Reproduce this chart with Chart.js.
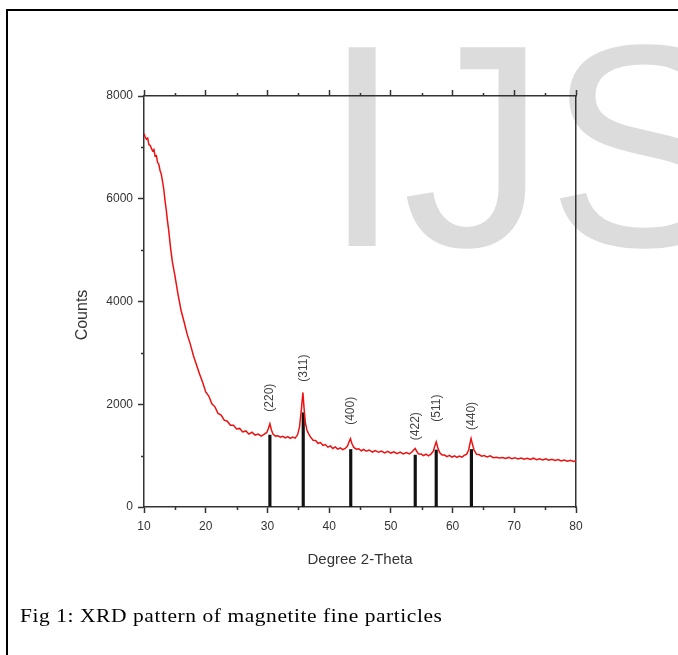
<!DOCTYPE html>
<html>
<head>
<meta charset="utf-8">
<title>XRD magnetita</title>
<script src="https://cdn.jsdelivr.net/npm/chart.js@4.4.1/dist/chart.umd.min.js"></script>
<style>
  html, body { margin: 0; padding: 0; background: #fff; }
  body { width: 678px; height: 655px; position: relative; overflow: hidden; }
  #marco { position: absolute; left: 6px; top: 9px; right: 0; bottom: 0; border-top: 2px solid #000; border-left: 2px solid #000; }
  #lienzo { position: absolute; left: 0; top: 0; }
  #pie { position: absolute; left: 20px; top: 606px; font-family: "Liberation Serif", "Times New Roman", serif; font-size: 19px; line-height: 19px; letter-spacing: 0.5px; color: #000; white-space: nowrap; transform: scaleX(1.13); transform-origin: left top; }
</style>
</head>
<body>
<div id="marco"></div>
<canvas id="lienzo" width="678" height="655"></canvas>
<div id="pie">Fig 1: XRD pattern of magnetite fine particles</div>
<script>
const twoTheta = [
  10.0, 10.2, 10.4, 10.6, 10.8, 11.0, 11.2, 11.4, 11.6, 11.8, 12.0, 12.2, 12.4, 12.6, 12.8,
  13.0, 13.2, 13.4, 13.6, 13.8, 14.0, 14.3, 14.6, 15.0, 15.5, 16.0, 16.5, 17.0, 17.5, 18.0,
  18.5, 19.0, 19.5, 20.0, 20.5, 21.0, 21.5, 22.0, 22.5, 23.0, 23.5, 24.0, 24.5, 25.0, 25.5,
  26.0, 26.5, 27.0, 27.5, 28.0, 28.5, 29.0, 29.5, 29.9, 30.15, 30.4, 30.65, 30.9, 31.3, 31.7,
  32.1, 32.5, 32.9, 33.3, 33.7, 34.1, 34.5, 34.9, 35.2, 35.5, 35.75, 35.95, 36.15, 36.4, 36.7,
  37.0, 37.4, 37.8, 38.2, 38.6, 39.0, 39.4, 39.8, 40.2, 40.6, 41.0, 41.4, 41.8, 42.2, 42.6,
  42.95, 43.2, 43.45, 43.7, 44.0, 44.4, 44.8, 45.2, 45.6, 46.0, 46.5, 47.0, 47.5, 48.0, 48.5,
  49.0, 49.5, 50.0, 50.5, 51.0, 51.5, 52.0, 52.5, 53.0, 53.4, 53.7, 53.95, 54.2, 54.5, 54.9,
  55.3, 55.7, 56.1, 56.5, 56.9, 57.1, 57.35, 57.6, 57.9, 58.3, 58.7, 59.1, 59.5, 59.9, 60.3,
  60.7, 61.1, 61.5, 61.9, 62.3, 62.6, 62.85, 63.0, 63.2, 63.5, 63.9, 64.3, 64.7, 65.1, 65.6,
  66.1, 66.6, 67.1, 67.6, 68.1, 68.6, 69.1, 69.6, 70.1, 70.6, 71.1, 71.6, 72.1, 72.6, 73.1,
  73.6, 74.1, 74.6, 75.1, 75.6, 76.1, 76.6, 77.1, 77.6, 78.1, 78.6, 79.1, 79.6, 80.0
];
const counts = [
  7270, 7200, 7160, 7180, 7050, 7040, 6980, 6930, 6960, 6830, 6840, 6710, 6670, 6550, 6480,
  6340, 6190, 5970, 5790, 5570, 5390, 5050, 4770, 4510, 4150, 3830, 3600, 3360, 3170, 2950,
  2770, 2590, 2430, 2240, 2160, 2010, 1950, 1820, 1790, 1690, 1670, 1590, 1590, 1520, 1530,
  1460, 1480, 1420, 1455, 1400, 1420, 1380, 1420, 1450, 1530, 1620, 1500, 1420, 1380, 1385,
  1360, 1375, 1345, 1370, 1335, 1360, 1340, 1410, 1560, 1900, 2230, 1900, 1640, 1500, 1420,
  1360, 1300, 1295, 1240, 1255, 1200, 1215, 1165, 1190, 1140, 1170, 1125, 1150, 1115, 1140,
  1180, 1260, 1330, 1230, 1160, 1125, 1135, 1095, 1120, 1085, 1110, 1070, 1100, 1065, 1090,
  1055, 1085, 1050, 1075, 1040, 1070, 1035, 1060, 1035, 1070, 1110, 1140, 1080, 1030, 1030,
  1000, 1030, 995, 1030, 1090, 1180, 1270, 1160, 1060, 1010, 1010, 980, 1005, 970, 995,
  965, 990, 970, 1005, 1030, 1110, 1250, 1330, 1230, 1100, 1025, 1020, 990, 1000, 975,
  995, 960, 970, 955, 965, 945, 965, 940, 960, 935, 955, 930, 950, 925, 950,
  920, 940, 915, 940, 910, 930, 905, 925, 895, 915, 890, 910, 885, 900
];

// Líneas de referencia (JCPDS) y sus índices de Miller
const peakPos = [30.4, 35.8, 43.5, 53.95, 57.35, 63.05];
const peakHeight = [1400, 1835, 1120, 1010, 1110, 1120];
const peakLabels = ['(220)', '(311)', '(400)', '(422)', '(511)', '(440)'];
const labelCounts = [1855, 2440, 1600, 1300, 1660, 1500];

const xMin = 10, xMax = 80, xStep = 5, xLabelStep = 10;
const yMin = 0, yMax = 8000, yStep = 1000, yLabelStep = 2000;

const fuente = '"Liberation Sans", Arial, sans-serif';
const gris = '#333';
Chart.defaults.font.family = fuente;

const curva = twoTheta.map((t, i) => ({ x: t, y: counts[i] }));
const barras = peakPos.map((p, i) => ({ x: p, y: peakHeight[i] }));

// Marcas menores, etiquetas de picos, título del eje Y y marca de agua
const extras = {
  id: 'extras',
  beforeDraw(chart) {
    const ctx = chart.ctx;
    ctx.save();
    ctx.fillStyle = '#dcdcdc';
    ctx.font = '289px ' + fuente;
    ctx.textBaseline = 'alphabetic';
    ctx.fillText('IJSER', 322, 246);
    ctx.restore();
  },
  afterDraw(chart) {
    const { ctx, chartArea } = chart;
    const x = chart.scales.x, y = chart.scales.y;
    ctx.save();
    ctx.strokeStyle = gris;
    ctx.lineWidth = 1.5;
    ctx.beginPath();
    x.ticks.forEach(t => {
      if (t.value % xLabelStep === 0) return;
      const px = Math.round(x.getPixelForValue(t.value)) + 0.5;
      ctx.moveTo(px, chartArea.bottom); ctx.lineTo(px, chartArea.bottom + 3);
      ctx.moveTo(px, chartArea.top); ctx.lineTo(px, chartArea.top - 3);
    });
    y.ticks.forEach(t => {
      if (t.value % yLabelStep === 0) return;
      const py = Math.round(y.getPixelForValue(t.value)) + 0.5;
      ctx.moveTo(chartArea.left, py); ctx.lineTo(chartArea.left - 3, py);
    });
    ctx.stroke();

    ctx.fillStyle = gris;
    ctx.font = '16px ' + fuente;
    ctx.textAlign = 'center';
    ctx.textBaseline = 'middle';
    ctx.save();
    ctx.translate(83, 315);
    ctx.rotate(-Math.PI / 2);
    ctx.fillText('Counts', 0, 0);
    ctx.restore();

    ctx.font = '12px ' + fuente;
    ctx.fillStyle = '#444';
    ctx.textAlign = 'left';
    peakLabels.forEach((txt, i) => {
      const px = x.getPixelForValue(peakPos[i]);
      const py = y.getPixelForValue(labelCounts[i]);
      ctx.save();
      ctx.translate(px, py);
      ctx.rotate(-Math.PI / 2);
      ctx.fillText(txt, 0, 0);
      ctx.restore();
    });
    ctx.restore();
  }
};

const marcaMayor = (paso) => (c) => (c.tick && c.tick.value % paso === 0) ? gris : 'rgba(0,0,0,0)';

new Chart(document.getElementById('lienzo'), {
  type: 'line',
  data: {
    datasets: [{
      label: 'XRD',
      data: curva,
      xAxisID: 'x',
      yAxisID: 'y',
      borderColor: '#ee1111',
      borderWidth: 1.5,
      pointRadius: 0,
      tension: 0,
      fill: false,
      order: 0
    }, {
      type: 'bar',
      label: 'JCPDS',
      data: barras,
      xAxisID: 'x',
      yAxisID: 'y',
      backgroundColor: '#111',
      barThickness: 2.5,
      order: 1
    }]
  },
  options: {
    responsive: false,
    animation: false,
    layout: { padding: { left: 70, right: 102, top: 86, bottom: 80 } },
    plugins: { legend: { display: false }, tooltip: { enabled: false } },
    scales: {
      x: {
        type: 'linear', position: 'bottom', min: xMin, max: xMax, offset: false,
        afterFit: s => { s.height = 68; },
        border: { color: gris, width: 1.5 },
        grid: { offset: false, drawOnChartArea: false, drawTicks: true, tickLength: 6, tickWidth: 1.5, tickColor: marcaMayor(xLabelStep) },
        ticks: {
          stepSize: xStep, autoSkip: false, maxRotation: 0, padding: 6,
          color: gris, font: { size: 12 },
          callback: v => (v % xLabelStep === 0 ? v : '')
        },
        title: { display: true, text: 'Degree 2-Theta', color: gris, font: { size: 15 }, padding: { top: 0, bottom: 6 } }
      },
      xTop: {
        type: 'linear', position: 'top', min: xMin, max: xMax, offset: false,
        afterFit: s => { s.height = 10; },
        border: { color: gris, width: 1.5 },
        grid: { drawOnChartArea: false, drawTicks: true, tickLength: 6, tickWidth: 1.5, tickColor: marcaMayor(xLabelStep) },
        ticks: { display: false, stepSize: xStep, autoSkip: false }
      },
      y: {
        type: 'linear', position: 'left', min: yMin, max: yMax,
        afterFit: s => { s.width = 74; },
        border: { color: gris, width: 1.5 },
        grid: { drawOnChartArea: false, drawTicks: true, tickLength: 6, tickWidth: 1.5, tickColor: marcaMayor(yLabelStep) },
        ticks: {
          stepSize: yStep, autoSkip: false, padding: 5,
          color: gris, font: { size: 12 },
          callback: v => (v % yLabelStep === 0 ? v : '')
        }
      },
      yRight: {
        type: 'linear', position: 'right', min: yMin, max: yMax,
        afterFit: s => { s.width = 0; },
        border: { color: gris, width: 1.5 },
        grid: { drawOnChartArea: false, drawTicks: false },
        ticks: { display: false }
      }
    }
  },
  plugins: [extras]
});
</script>
</body>
</html>
